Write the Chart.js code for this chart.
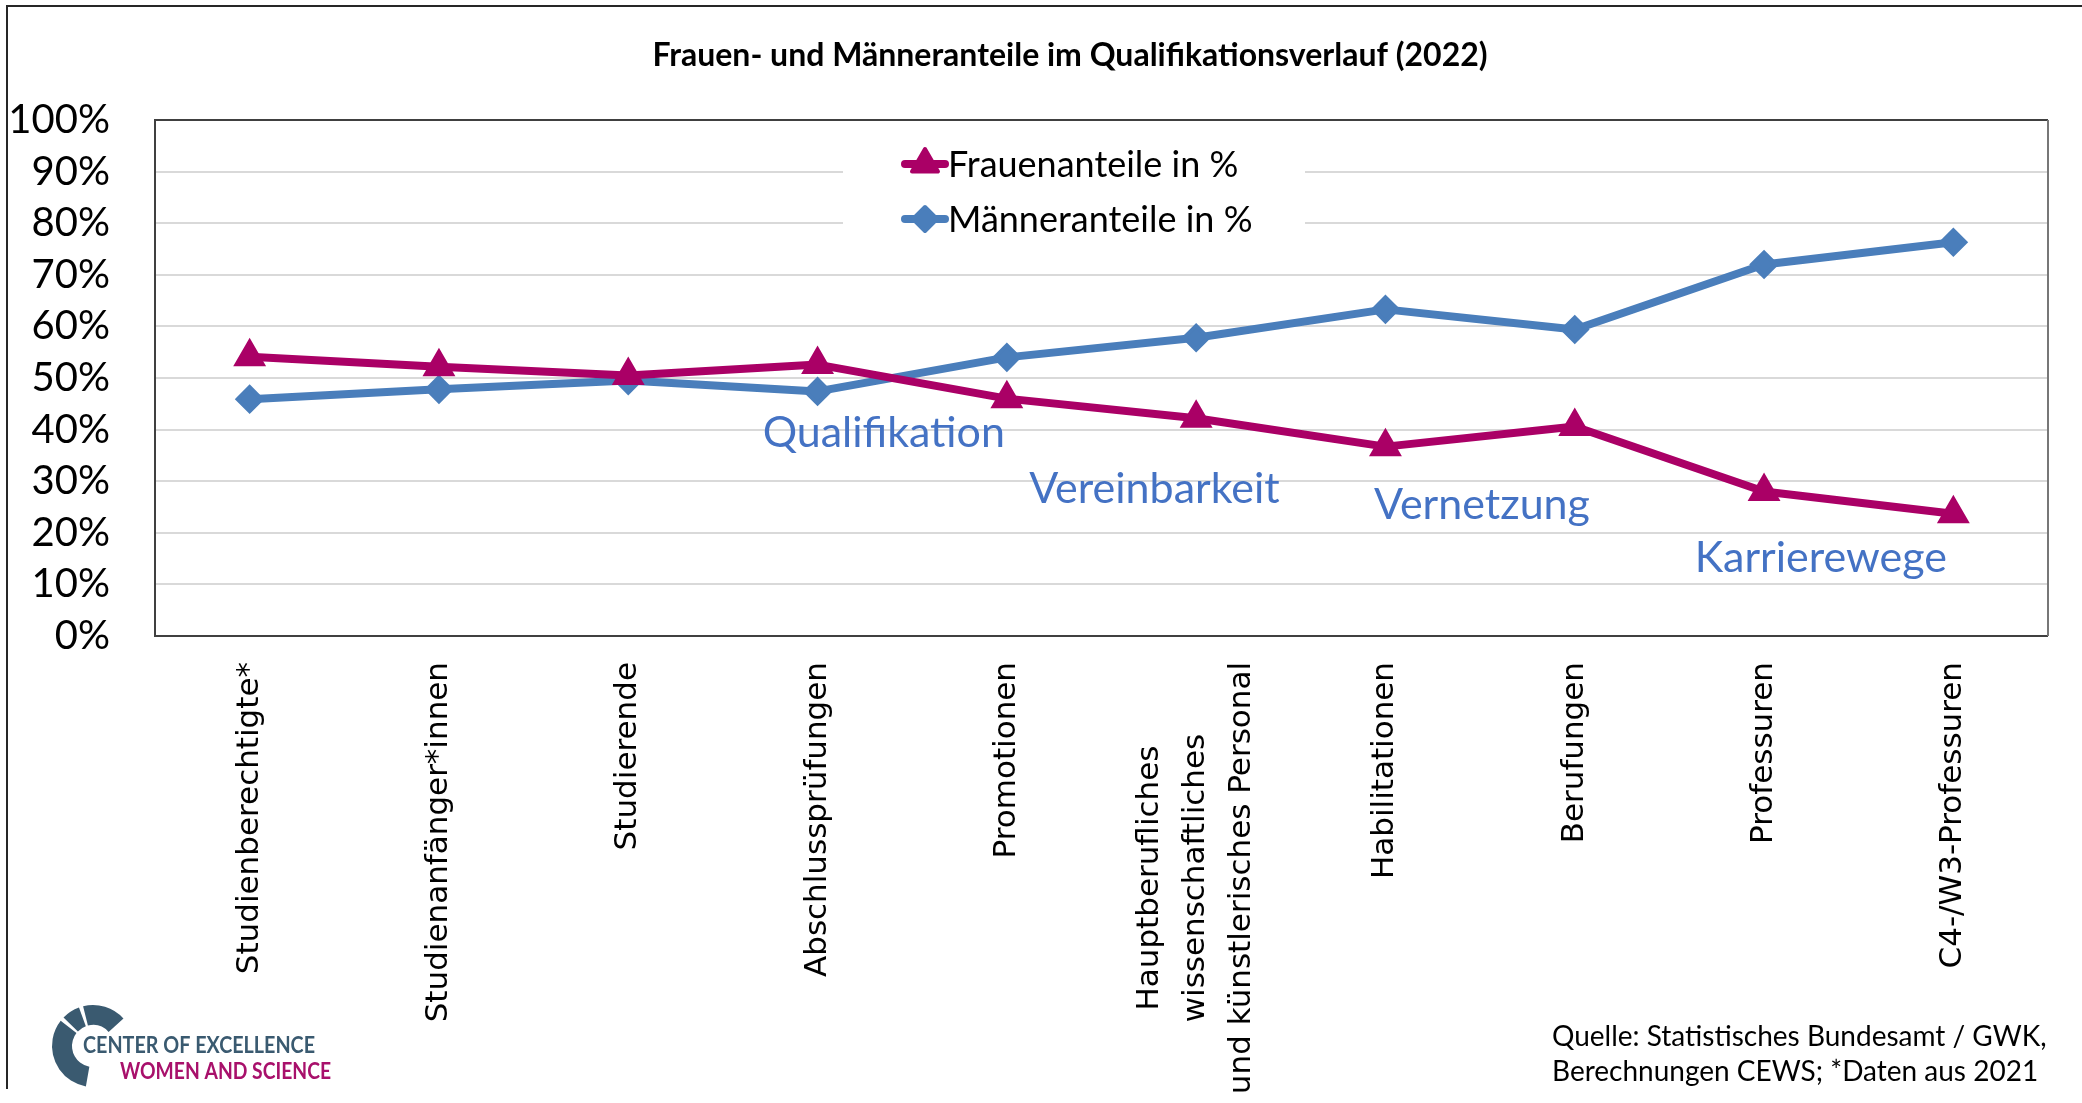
<!DOCTYPE html>
<html>
<head>
<meta charset="utf-8">
<script src="https://cdn.jsdelivr.net/npm/chart.js@4/dist/chart.umd.min.js"></script>
<style>
body{margin:0;background:#fff}
canvas{display:block}
</style>
</head>
<body>
<canvas id="grafik" width="2082" height="1103"></canvas>
<script>

const kategorien=[
"Studienberechtigte*",
"Studienanfänger*innen",
"Studierende",
"Abschlussprüfungen",
"Promotionen",
["Hauptberufliches","wissenschaftliches","und künstlerisches Personal"],
"Habilitationen",
"Berufungen",
"Professuren",
"C4-/W3-Professuren"
]

const frauenanteile=[54.1,52.2,50.5,52.6,46.0,42.2,36.7,40.6,28.0,23.7]
const maenneranteile=[45.9,47.8,49.5,47.4,54.0,57.8,63.3,59.4,72.0,76.3]

const hinweisTexte=["Qualifikation","Vereinbarkeit","Vernetzung","Karrierewege"]
const hinweisX=[3.35,4.78,6.51,8.3]
const hinweisY=[39.3,28.5,25.4,15.1]

const titel="Frauen- und Männeranteile im Qualifikationsverlauf (2022)"
const quelle=["Quelle: Statistisches Bundesamt / GWK,","Berechnungen CEWS; *Daten aus 2021"]

const rot="#AA0066"
const blau="#4A7EBB"

function marker(ctx,stil,x,y,farbe){
ctx.fillStyle=farbe
ctx.strokeStyle=farbe
ctx.lineWidth=4
ctx.lineJoin="round"
if(Chart.helpers&&Chart.helpers.drawPoint){
Chart.helpers.drawPoint(ctx,{pointStyle:stil,radius:stil=="triangle"?15:12,borderWidth:4,rotation:0},x,y)
return
}
ctx.beginPath()
if(stil=="triangle"){
ctx.moveTo(x,y-15);ctx.lineTo(x+13,y+7.5);ctx.lineTo(x-13,y+7.5)
}else{
ctx.moveTo(x,y-12);ctx.lineTo(x+12,y);ctx.lineTo(x,y+12);ctx.lineTo(x-12,y)
}
ctx.closePath();ctx.fill();ctx.stroke()
}

const extras={
id:"extras",

afterLayout(chart){
// Titel sitzt im Original etwas rechts der Mitte
if(chart.titleBlock){
chart.titleBlock.left+=46
chart.titleBlock.right+=46
}
},

beforeDatasetsDraw(chart){
const ctx=chart.ctx
const a=chart.chartArea
ctx.save()

// Rahmen der Zeichenfläche
ctx.strokeStyle="#404040"
ctx.lineWidth=2
ctx.beginPath()
ctx.moveTo(a.right,a.top);ctx.lineTo(a.left,a.top);ctx.lineTo(a.left,a.bottom);ctx.lineTo(a.right,a.bottom)
ctx.stroke()
ctx.strokeStyle="#777"
ctx.beginPath();ctx.moveTo(a.right,a.top);ctx.lineTo(a.right,a.bottom);ctx.stroke()

// Legende
ctx.fillStyle="#fff"
ctx.fillRect(843,134,462,120)
chart.data.datasets.forEach((ds,i)=>{
let y=164+i*55
ctx.strokeStyle=ds.borderColor
ctx.lineWidth=8
ctx.lineCap="round"
ctx.beginPath();ctx.moveTo(905,y);ctx.lineTo(945,y);ctx.stroke()
marker(ctx,ds.pointStyle,925,y,ds.borderColor)
ctx.fillStyle="#000"
ctx.font="36px Lato"
ctx.textAlign="left"
ctx.textBaseline="middle"
ctx.fillText(ds.label,948,y+1)
})
ctx.restore()
},

afterDraw(chart){
const ctx=chart.ctx
const x=chart.scales.x
const y=chart.scales.y
ctx.save()

// Achsenbeschriftung unten, gedreht und zentriert
ctx.fillStyle="#000"
ctx.font="31px 'DejaVu Sans'"
ctx.textAlign="center"
ctx.textBaseline="middle"
kategorien.forEach((k,i)=>{
let zeilen=Array.isArray(k)?k:[k]
let breite=Math.max(...zeilen.map(z=>ctx.measureText(z).width))
let px=x.getPixelForValue(i)
zeilen.forEach((z,j)=>{
ctx.save()
ctx.translate(px+(j-(zeilen.length-1)/2)*46,y.bottom+26+breite/2)
ctx.rotate(-Math.PI/2)
ctx.fillText(z,0,0)
ctx.restore()
})
})

// Hinweise
ctx.fillStyle="#4472C4"
ctx.font="43px Lato"
hinweisTexte.forEach((t,i)=>{
ctx.fillText(t,x.getPixelForValue(hinweisX[i]),y.getPixelForValue(hinweisY[i]))
})

// Quelle
ctx.fillStyle="#000"
ctx.font="28px Lato"
ctx.textAlign="left"
ctx.fillText(quelle[0],1552,1037)
ctx.fillText(quelle[1],1552,1072)

// Logo
ctx.fillStyle="#3A5A70"
const cx=93,cy=1046
const bogen=(von,bis)=>{
ctx.beginPath()
ctx.arc(cx,cy,41,von*Math.PI/180,bis*Math.PI/180)
ctx.arc(cx,cy,21,bis*Math.PI/180,von*Math.PI/180,true)
ctx.closePath();ctx.fill()
}
bogen(100,218)
bogen(224,250)
bogen(256,318)
ctx.font="bold 23px 'Liberation Sans Narrow', Lato"
ctx.textAlign="left"
ctx.fillText("CENTER OF EXCELLENCE",83,1046,232)
ctx.fillStyle="#A8106B"
ctx.fillText("WOMEN AND SCIENCE",120,1072,211)

// äußerer Rahmen
ctx.strokeStyle="#262626"
ctx.lineWidth=2
ctx.beginPath()
ctx.moveTo(2082,6);ctx.lineTo(7,6);ctx.lineTo(7,1089)
ctx.stroke()

ctx.restore()
}
}

new Chart(document.getElementById("grafik"),{

type:"line",

data:{
labels:kategorien,
datasets:[{
label:"Frauenanteile in %",
data:frauenanteile,
borderColor:rot,
backgroundColor:rot,
borderWidth:8,
pointStyle:"triangle",
pointRadius:15,
pointBorderWidth:4,
pointHoverRadius:15,
borderJoinStyle:"round",
tension:0
},{
label:"Männeranteile in %",
data:maenneranteile,
borderColor:blau,
backgroundColor:blau,
borderWidth:8,
pointStyle:"rectRot",
pointRadius:12,
pointBorderWidth:4,
pointHoverRadius:12,
borderJoinStyle:"round",
tension:0
}]
},

options:{
responsive:false,
animation:false,
devicePixelRatio:1,
layout:{padding:{left:0,right:34,top:0,bottom:467}},
plugins:{
legend:{display:false},
tooltip:{enabled:false},
title:{
display:true,
text:titel,
color:"#000",
font:{family:"Lato",size:32,weight:"bold"},
padding:{top:36,bottom:45.6}
}
},
scales:{
x:{
offset:true,
grid:{display:false,drawTicks:false},
border:{display:false},
ticks:{display:false}
},
y:{
min:0,
max:100,
afterFit:s=>{s.width=155},
grid:{color:"#D9D9D9",lineWidth:2,drawTicks:false},
border:{display:false},
ticks:{
stepSize:10,
padding:45,
color:"#000",
font:{family:"Lato",size:40},
callback:v=>v+"%"
}
}
}
},

plugins:[extras]

})

</script>
</body>
</html>
